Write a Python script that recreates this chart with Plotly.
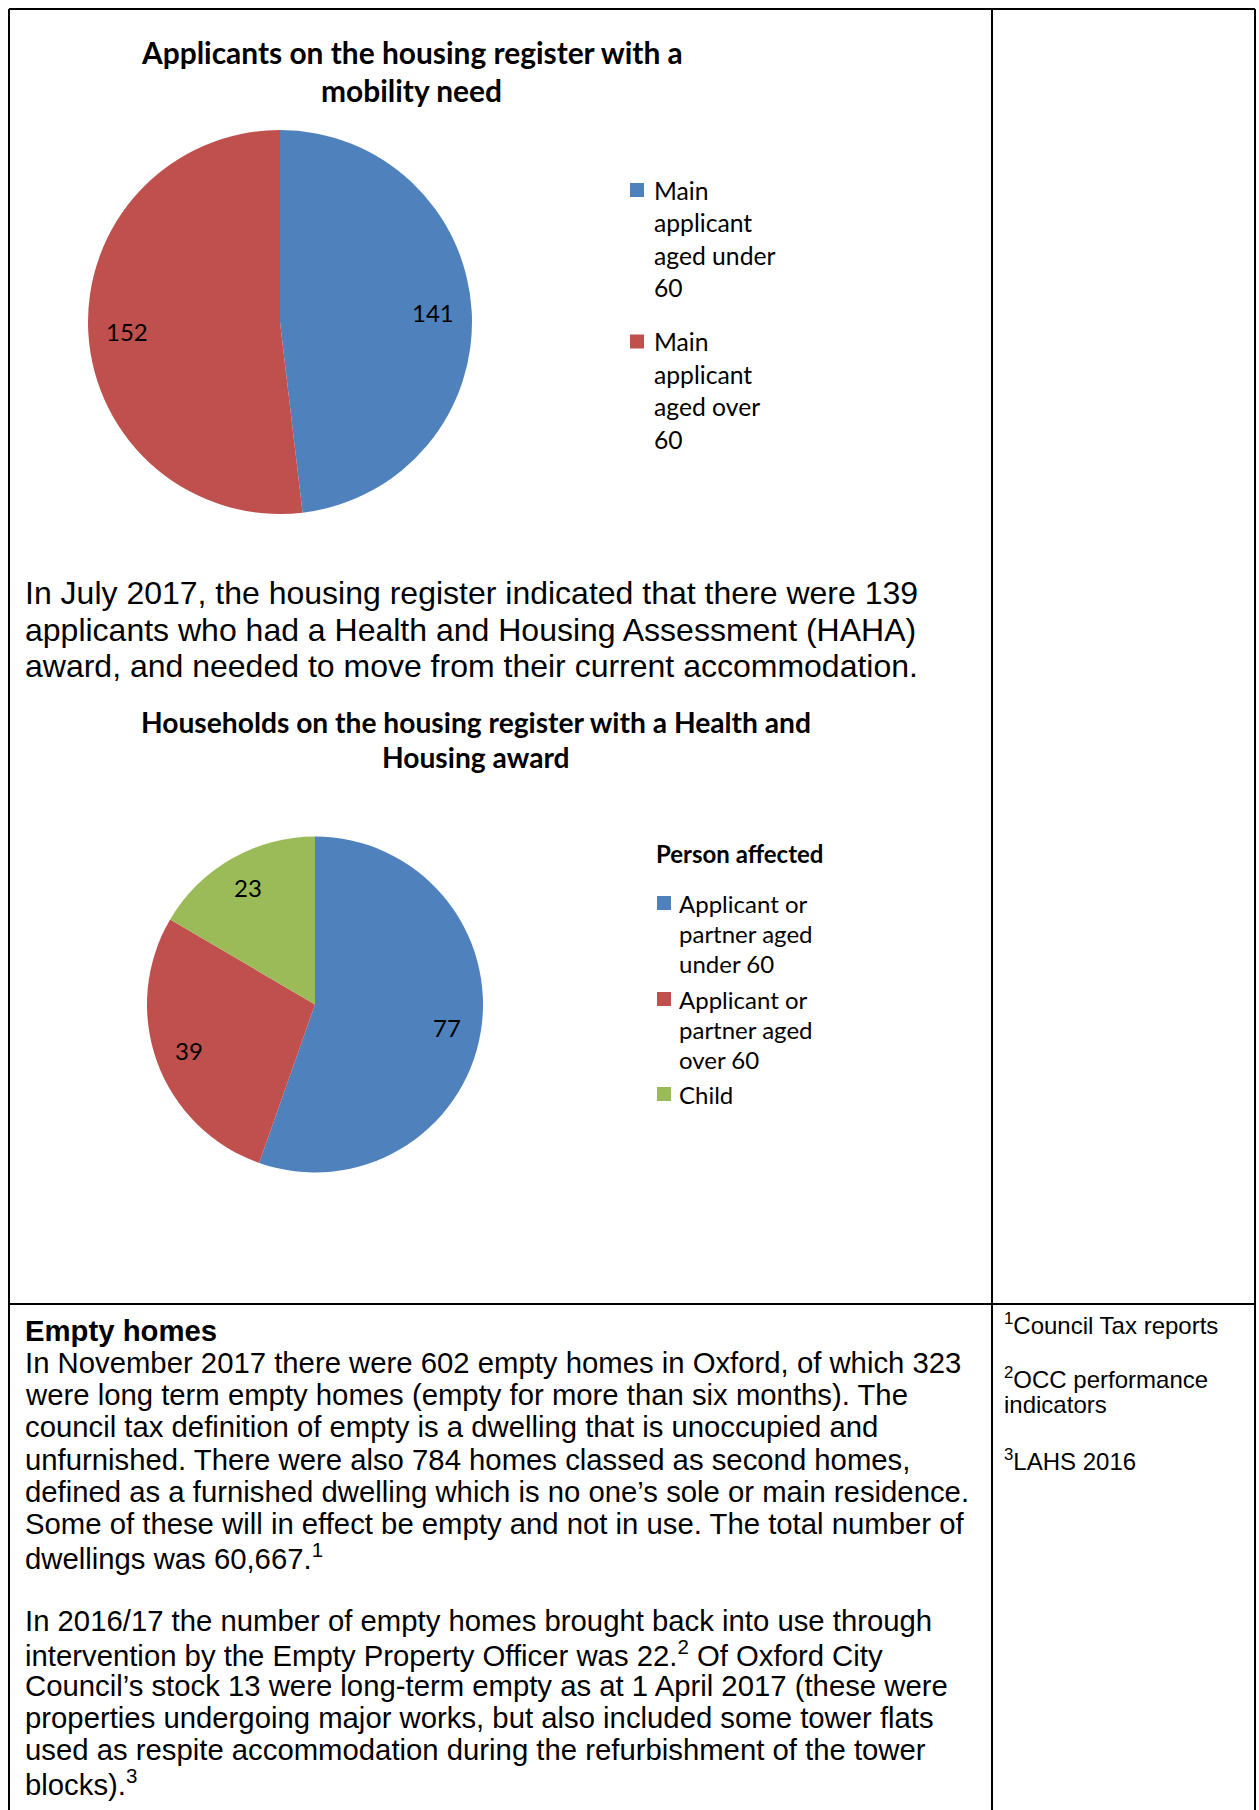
import math
import plotly.graph_objects as go

W, H = 1259, 1810

# ---- data -------------------------------------------------------------
mobility_legend_lines = [
    ["Main", "applicant", "aged under", "60"],
    ["Main", "applicant", "aged over", "60"],
]
mobility_labels = [" ".join(l) for l in mobility_legend_lines]
mobility_values = [141, 152]

haha_legend_lines = [
    ["Applicant or", "partner aged", "under 60"],
    ["Applicant or", "partner aged", "over 60"],
    ["Child"],
]
haha_labels = [" ".join(l) for l in haha_legend_lines]
haha_values = [77, 39, 23]

slice_colors = ["#4F81BD", "#C0504D", "#9BBB59"]

mobility_title = ["Applicants on the housing register with a", "mobility need"]
haha_title = ["Households on the housing register with a Health and", "Housing award"]
haha_legend_title = "Person affected"

intro_lines = [
    "In July 2017, the housing register indicated that there were 139",
    "applicants who had a Health and Housing Assessment (HAHA)",
    "award, and needed to move from their current accommodation.",
]

empty_homes_lines = [
    "<b>Empty homes</b>",
    "In November 2017 there were 602 empty homes in Oxford, of which 323",
    "were long term empty homes (empty for more than six months). The",
    "council tax definition of empty is a dwelling that is unoccupied and",
    "unfurnished. There were also 784 homes classed as second homes,",
    "defined as a furnished dwelling which is no one\u2019s sole or main residence.",
    "Some of these will in effect be empty and not in use. The total number of",
    "dwellings was 60,667.<sup>1</sup>",
    "",
    "In 2016/17 the number of empty homes brought back into use through",
    "intervention by the Empty Property Officer was 22.<sup>2</sup> Of Oxford City",
    "Council\u2019s stock 13 were long-term empty as at 1 April 2017 (these were",
    "properties undergoing major works, but also included some tower flats",
    "used as respite accommodation during the refurbishment of the tower",
    "blocks).<sup>3</sup>",
]

source_notes = [
    ("<sup>1</sup>Council Tax reports", 1324),
    ("<sup>2</sup>OCC performance", 1378),
    ("indicators", 1404),
    ("<sup>3</sup>LAHS 2016", 1460),
]

CHART_FONT = "Lato, 'Open Sans', sans-serif"
DOC_FONT = "'Liberation Sans', Arial, sans-serif"


def pie_domain(cx, cy, r):
    return dict(x=[(cx - r) / W, (cx + r) / W], y=[1 - (cy + r) / H, 1 - (cy - r) / H])


def label_points(values, cx, cy, r, frac=0.8):
    total = float(sum(values))
    cum = 0.0
    pts = []
    for v in values:
        mid = (cum + v / 2.0) / total * 2 * math.pi
        pts.append((cx + frac * r * math.sin(mid), cy - frac * r * math.cos(mid)))
        cum += v
    return pts


fig = go.Figure()

# pie geometry (pixel centre and radius)
P1 = (280, 322, 192)
P2 = (315, 1004.5, 168)

fig.add_trace(go.Pie(
    labels=mobility_labels, values=mobility_values,
    sort=False, direction="clockwise", rotation=0,
    marker=dict(colors=slice_colors[:2], line=dict(width=0)),
    textinfo="none", hoverinfo="label+value",
    domain=pie_domain(*P1), showlegend=False,
))
fig.add_trace(go.Pie(
    labels=haha_labels, values=haha_values,
    sort=False, direction="clockwise", rotation=0,
    marker=dict(colors=slice_colors, line=dict(width=0)),
    textinfo="none", hoverinfo="label+value",
    domain=pie_domain(*P2), showlegend=False,
))

annotations = []
shapes = []


def add_text(txt, x, y, size, family, anchor="left", color="#000000"):
    annotations.append(dict(
        text=txt, x=x, y=y, xref="x", yref="y", showarrow=False,
        xanchor=anchor, yanchor="middle", align=anchor,
        font=dict(size=size, family=family, color=color),
    ))


def add_legend(items, colors, x_sym, x_text, item_tops, line_step, size):
    # one coloured square per category, wrapped label beside it
    for lines, color, y0 in zip(items, colors, item_tops):
        shapes.append(dict(type="rect", xref="x", yref="y",
                           x0=x_sym, x1=x_sym + 14, y0=y0 - 7, y1=y0 + 7,
                           fillcolor=color, line=dict(width=0)))
        for j, line in enumerate(lines):
            add_text(line, x_text, y0 + j * line_step, size, CHART_FONT)


# slice value labels
for (x, y), v in zip(label_points(mobility_values, *P1), mobility_values):
    add_text(str(v), x, y, 24, CHART_FONT, "center")
for (x, y), v in zip(label_points(haha_values, *P2), haha_values):
    add_text(str(v), x, y, 24, CHART_FONT, "center")

# chart titles
for line, y in zip(mobility_title, [52, 90]):
    add_text("<b>" + line + "</b>", 411.5, y, 29.9, CHART_FONT, "center")
for line, y in zip(haha_title, [722, 757]):
    add_text("<b>" + line + "</b>", 475.5, y, 28.2, CHART_FONT, "center")

# legends
add_legend(mobility_legend_lines, slice_colors[:2], 630, 652, [190, 341.5], 32.5, 24.7)
add_text("<b>" + haha_legend_title + "</b>", 654, 853, 24, CHART_FONT)
add_legend(haha_legend_lines, slice_colors, 657, 677, [903, 999, 1094], 30, 24)

# document text
for i, line in enumerate(intro_lines):
    add_text(line, 23, 593 + i * 36.7, 32, DOC_FONT)
for i, line in enumerate(empty_homes_lines):
    if line:
        add_text(line, 23, 1330 + i * 32.3, 29.3, DOC_FONT)
for line, y in source_notes:
    add_text(line, 1002, y, 24, DOC_FONT)

# table rules
rule = dict(color="#000000", width=2)
shapes += [
    dict(type="line", x0=9, x1=1255, y0=9, y1=9, xref="x", yref="y", line=rule),
    dict(type="line", x0=9, x1=9, y0=9, y1=H, xref="x", yref="y", line=rule),
    dict(type="line", x0=992, x1=992, y0=9, y1=H, xref="x", yref="y", line=rule),
    dict(type="line", x0=1255, x1=1255, y0=9, y1=H, xref="x", yref="y", line=rule),
    dict(type="line", x0=9, x1=1255, y0=1304, y1=1304, xref="x", yref="y", line=rule),
]

fig.update_layout(
    width=W, height=H,
    margin=dict(l=0, r=0, t=0, b=0),
    paper_bgcolor="white", plot_bgcolor="white",
    xaxis=dict(range=[0, W], visible=False, domain=[0, 1], fixedrange=True),
    yaxis=dict(range=[H, 0], visible=False, domain=[0, 1], fixedrange=True),
    showlegend=False,
    annotations=annotations,
    shapes=shapes,
)

fig.write_html("out.html")
